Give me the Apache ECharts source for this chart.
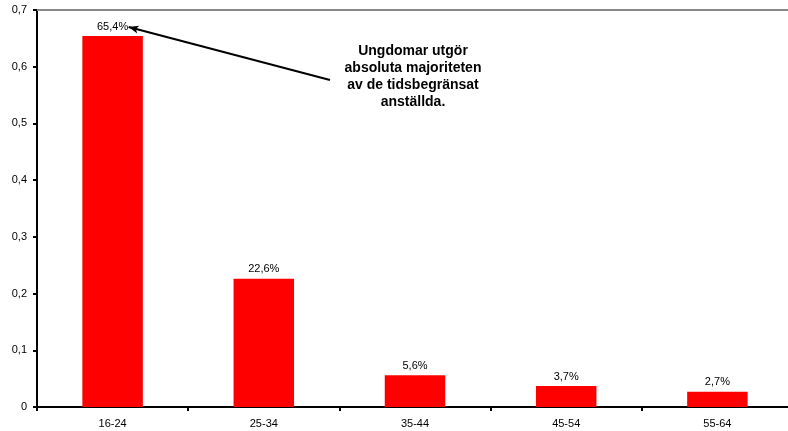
<!DOCTYPE html>
<html>
<head>
<meta charset="utf-8">
<script src="https://cdn.jsdelivr.net/npm/echarts@6/dist/echarts.min.js"></script>
<style>html,body{margin:0;padding:0;background:#fff;overflow:hidden;}#c{width:800px;height:431px;}</style>
</head>
<body>
<div id="c"></div>
<script>
var categories = ['16-24', '25-34', '35-44', '45-54', '55-64'];
var shares = [0.654, 0.226, 0.056, 0.037, 0.027];
var yTicks = [0, 0.1, 0.2, 0.3, 0.4, 0.5, 0.6, 0.7];
var noteLines = ['Ungdomar utgör', 'absoluta majoriteten', 'av de tidsbegränsat', 'anställda.'];

var chart = echarts.init(document.getElementById('c'), null, {renderer: 'canvas'});
var font = 'Liberation Sans, Arial, sans-serif';
function fmt(v) { return v === 0 ? '0' : v.toFixed(1).replace('.', ','); }

chart.setOption({
  animation: false,
  backgroundColor: '#fff',
  grid: {left: 37, width: 756, top: 10, bottom: 24, containLabel: false},
  xAxis: [{
    type: 'category',
    data: categories,
    position: 'bottom',
    axisLine: {lineStyle: {color: '#000', width: 2}},
    axisTick: {show: true, length: 4, lineStyle: {color: '#000', width: 2}, alignWithLabel: false},
    axisLabel: {color: '#000', fontFamily: font, fontSize: 11, margin: 11}
  }, {
    type: 'category',
    data: categories,
    position: 'top',
    axisLine: {lineStyle: {color: '#888', width: 2}},
    axisTick: {show: false},
    axisLabel: {show: false}
  }],
  yAxis: {
    type: 'value',
    min: yTicks[0],
    max: yTicks[yTicks.length - 1],
    interval: 0.1,
    axisLine: {show: true, lineStyle: {color: '#000', width: 2}},
    axisTick: {show: true, length: 4, lineStyle: {color: '#000', width: 2}},
    splitLine: {show: false},
    axisLabel: {color: '#000', fontFamily: font, fontSize: 11, margin: 10, formatter: fmt}
  },
  series: [{
    type: 'bar',
    data: shares,
    barWidth: '40%',
    itemStyle: {color: '#ff0000'},
    label: {
      show: true,
      position: 'top',
      distance: 4,
      color: '#000',
      fontFamily: font,
      fontSize: 11,
      formatter: function (p) { return (p.value * 100).toFixed(1).replace('.', ',') + '%'; }
    }
  }]
});

var tip = chart.convertToPixel({seriesIndex: 0}, [0, shares[0]]);
chart.setOption({
  series: [{
    markLine: {
      silent: true,
      symbol: ['none', 'arrow'],
      symbolSize: [6, 10],
      label: {show: false},
      lineStyle: {color: '#000', width: 2, type: 'solid'},
      data: [[{x: 330, y: 80}, {x: tip[0] + 16, y: tip[1] - 9}]]
    }
  }],
  graphic: [{
    type: 'text',
    x: 413,
    y: 43,
    style: {
      text: noteLines.join('\n'),
      align: 'center',
      verticalAlign: 'top',
      fill: '#000',
      font: 'bold 14px Liberation Sans, Arial, sans-serif',
      lineHeight: 17
    }
  }]
});
</script>
</body>
</html>
